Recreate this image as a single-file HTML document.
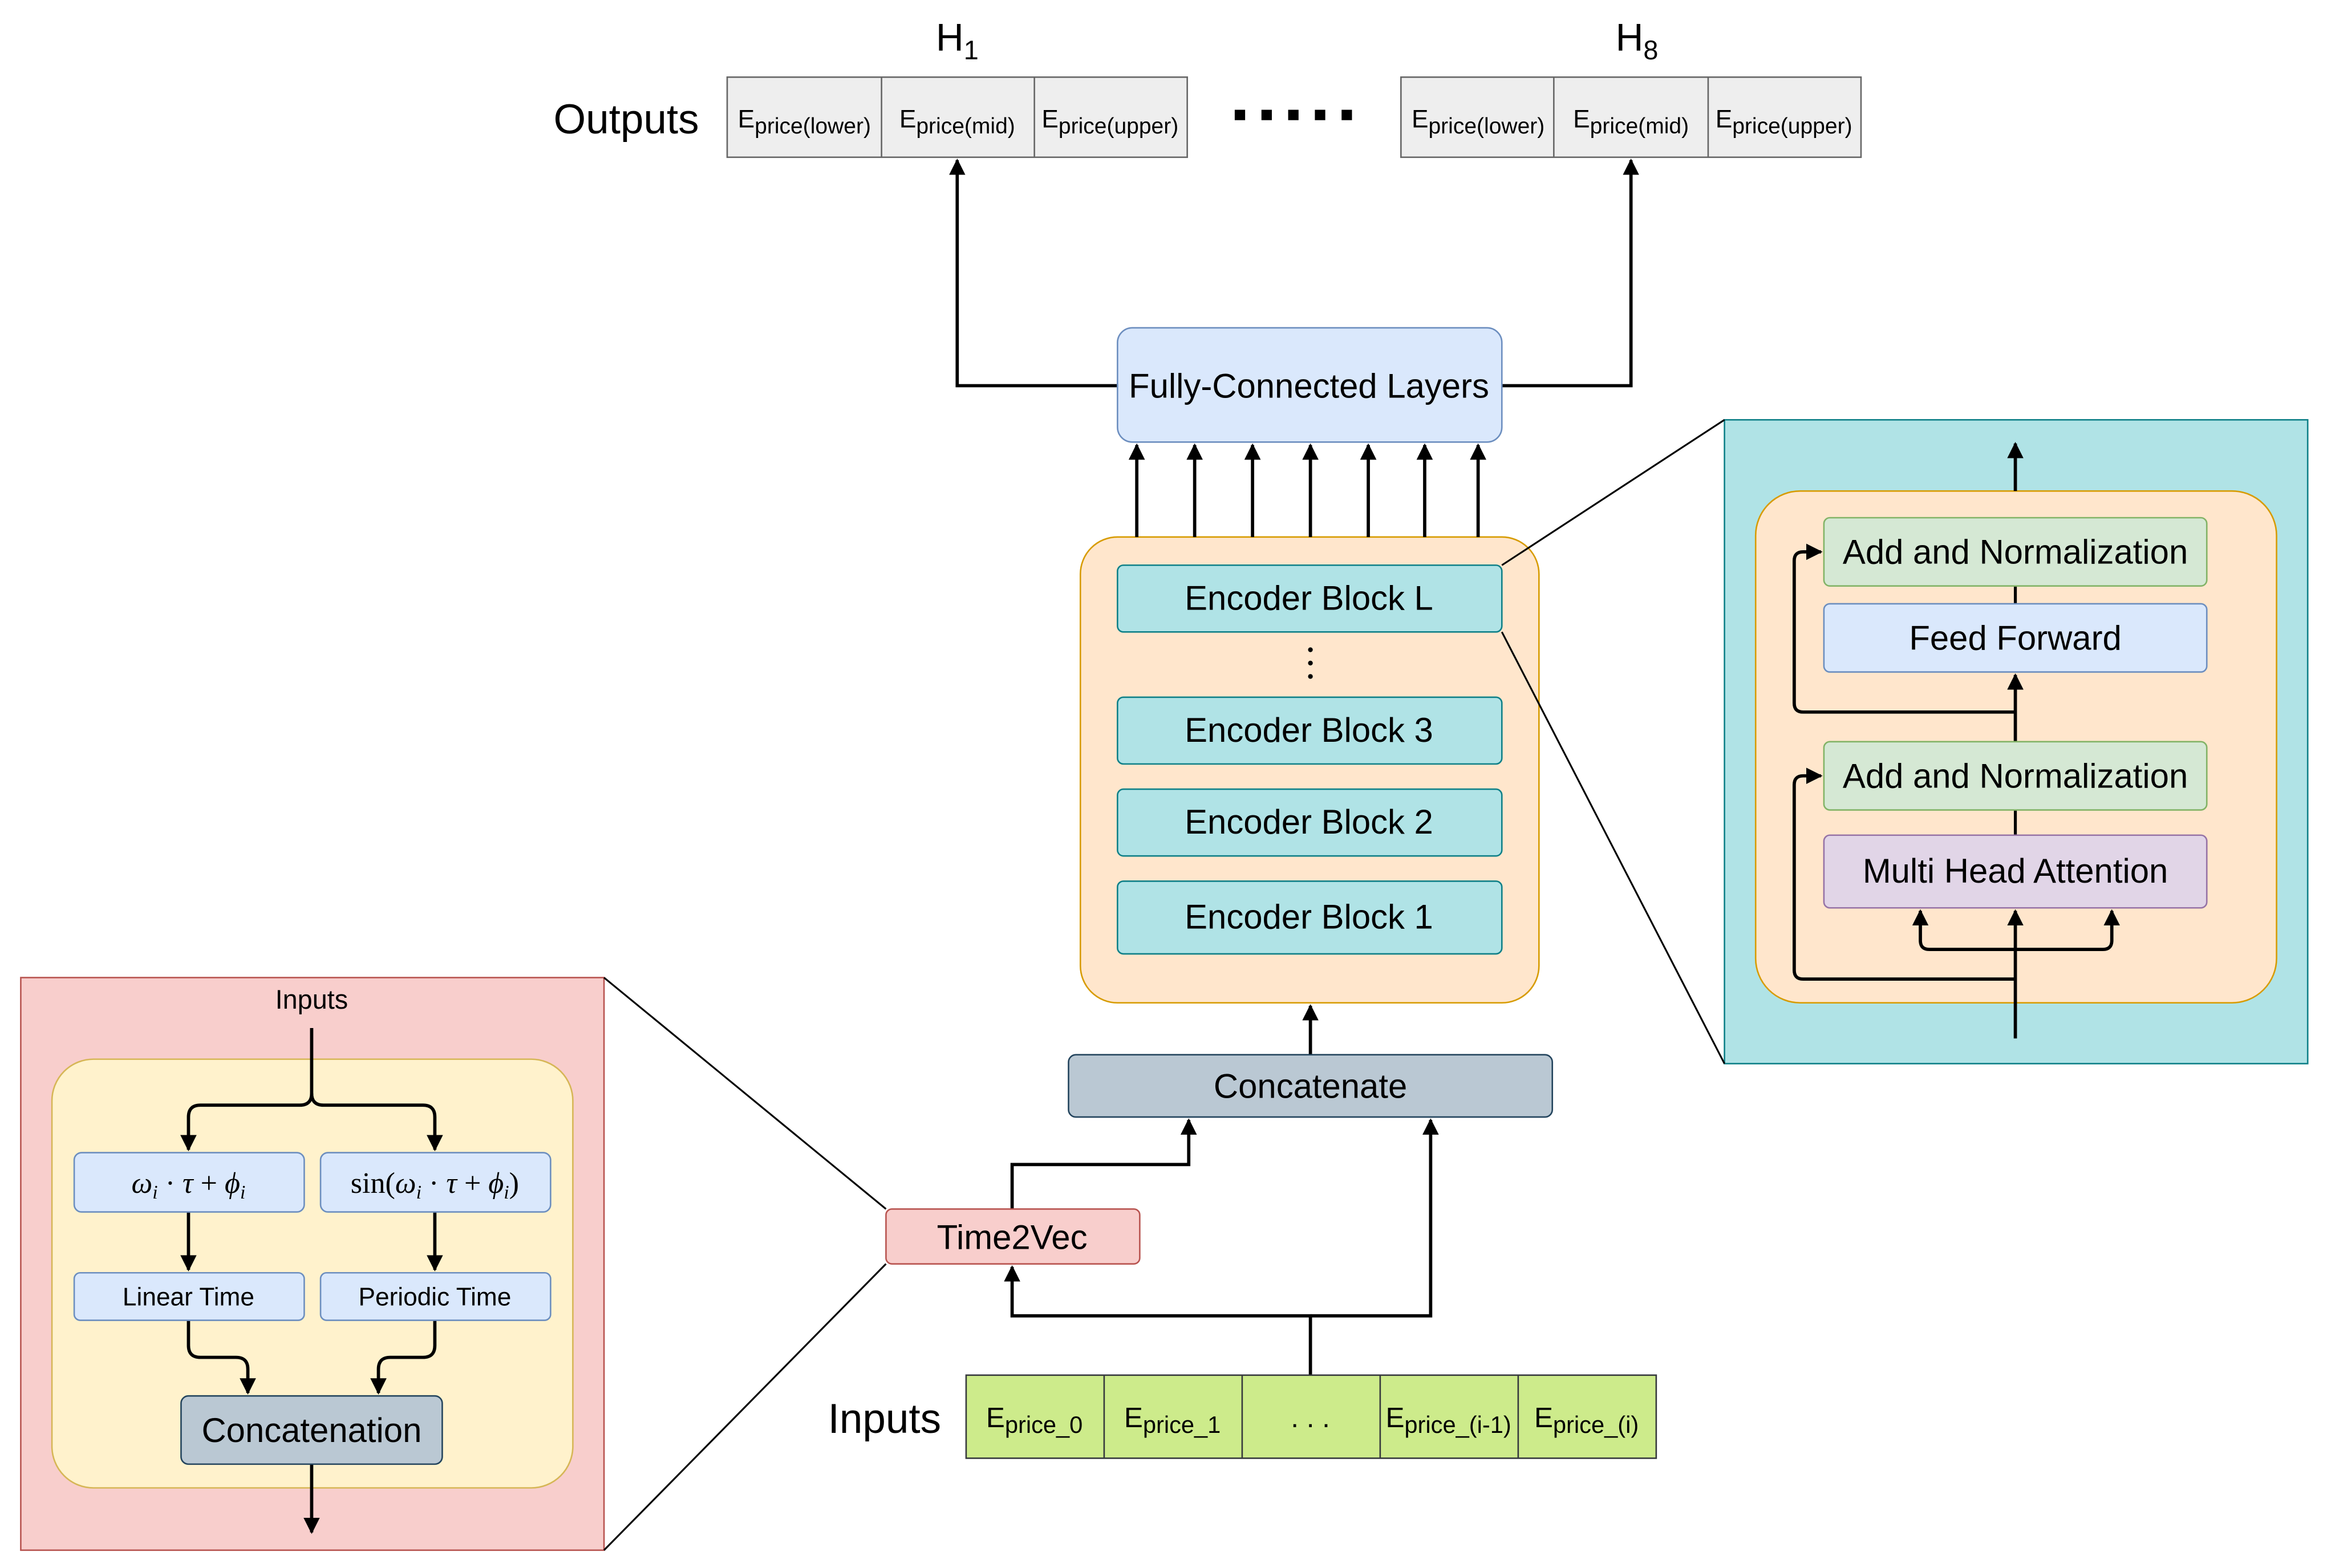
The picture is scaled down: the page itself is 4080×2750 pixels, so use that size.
<!DOCTYPE html>
<html><head><meta charset="utf-8"><style>html,body{margin:0;padding:0;background:#fff}svg{display:block}</style></head>
<body>
<svg width="4080" height="2750" viewBox="0 0 1568 1057" preserveAspectRatio="none" xmlns="http://www.w3.org/2000/svg" font-family="Liberation Sans, DejaVu Sans, sans-serif" fill="#000">
<defs><marker id="a" viewBox="0 0 10 10" refX="9" refY="5" markerWidth="5" markerHeight="5" orient="auto"><path d="M0,0L10,5L0,10z" fill="#000"/></marker></defs>
<rect x="1162" y="283" width="393" height="434" fill="#b0e3e6" stroke="#0e8088"/>
<rect x="1183" y="331" width="351" height="345" rx="30" fill="#ffe6cc" stroke="#d79b00"/>
<rect x="14" y="659" width="393" height="386" fill="#f8cecc" stroke="#b85450"/>
<rect x="35" y="714" width="351" height="289" rx="28" fill="#fff2cc" stroke="#d6b656"/>
<rect x="728" y="362" width="309" height="314" rx="25" fill="#ffe6cc" stroke="#d79b00"/>
<g stroke="#000" stroke-width="2.2" fill="none" marker-end="url(#a)">
<path d="M753,260H645V108"/><path d="M1012,260H1099V108"/>
<path d="M766,362V300"/><path d="M805,362V300"/><path d="M844,362V300"/><path d="M883,362V300"/><path d="M922,362V300"/><path d="M960,362V300"/><path d="M996,362V300"/>
<path d="M883,711V678"/>
<path d="M682,815V785H801V755"/>
<path d="M883,927V887H682V854"/><path d="M883,887H964V755"/>
<path d="M1358,331V299"/>
<path d="M1358,700V614"/><path d="M1358,640H1300Q1294,640 1294,634V614"/><path d="M1358,640H1417Q1423,640 1423,634V614"/>
<path d="M1358,660H1215Q1209,660 1209,654V529Q1209,523 1215,523H1227"/>
<path d="M1358,546V455"/>
<path d="M1358,480H1215Q1209,480 1209,474V378Q1209,372 1215,372H1227"/>
<path d="M210,693V737Q210,745 202,745H135Q127,745 127,753V775"/>
<path d="M210,737Q210,745 218,745H285Q293,745 293,753V775"/>
<path d="M127,817V856"/><path d="M293,817V856"/>
<path d="M127,890V907Q127,915 135,915H159Q167,915 167,923V939"/>
<path d="M293,890V907Q293,915 285,915H263Q255,915 255,923V939"/>
<path d="M210,987V1033"/>
</g>
<g stroke="#000" stroke-width="1.2"><path d="M1012,381L1162,283M1012,426L1162,717M597,815L407,659M597,852L407,1045"/></g>
<text x="645" y="34" font-size="26" text-anchor="middle">H<tspan font-size="18" dy="6">1</tspan></text>
<text x="1103" y="34" font-size="26" text-anchor="middle">H<tspan font-size="18" dy="6">8</tspan></text>
<text x="422" y="90" font-size="28" text-anchor="middle">Outputs</text>
<g fill="#eeeeee" stroke="#666" stroke-width="1"><rect x="490" y="52" width="310" height="54"/><rect x="944" y="52" width="310" height="54"/></g>
<g stroke="#666"><path d="M594,52V106M697,52V106M1047,52V106M1151,52V106"/></g>
<g font-size="17" text-anchor="middle">
<text x="542" y="86">E<tspan font-size="15" dy="4">price(lower)</tspan></text>
<text x="645" y="86">E<tspan font-size="15" dy="4">price(mid)</tspan></text>
<text x="748" y="86">E<tspan font-size="15" dy="4">price(upper)</tspan></text>
<text x="996" y="86">E<tspan font-size="15" dy="4">price(lower)</tspan></text>
<text x="1099" y="86">E<tspan font-size="15" dy="4">price(mid)</tspan></text>
<text x="1202" y="86">E<tspan font-size="15" dy="4">price(upper)</tspan></text>
</g>
<g fill="#000"><rect x="832" y="74" width="7" height="7"/><rect x="850" y="74" width="7" height="7"/><rect x="868" y="74" width="7" height="7"/><rect x="886" y="74" width="7" height="7"/><rect x="904" y="74" width="7" height="7"/></g>
<rect x="753" y="221" width="259" height="77" rx="10" fill="#dae8fc" stroke="#6c8ebf"/>
<text x="882" y="268" font-size="23" text-anchor="middle">Fully-Connected Layers</text>
<g fill="#b0e3e6" stroke="#0e8088"><rect x="753" y="381" width="259" height="45" rx="4"/><rect x="753" y="470" width="259" height="45" rx="4"/><rect x="753" y="532" width="259" height="45" rx="4"/><rect x="753" y="594" width="259" height="49" rx="4"/></g>
<g font-size="23" text-anchor="middle"><text x="882" y="411">Encoder Block L</text><text x="882" y="500">Encoder Block 3</text><text x="882" y="562">Encoder Block 2</text><text x="882" y="626">Encoder Block 1</text></g>
<g fill="#000"><circle cx="883" cy="438" r="1.6"/><circle cx="883" cy="447" r="1.6"/><circle cx="883" cy="456" r="1.6"/></g>
<rect x="720" y="711" width="326" height="42" rx="5" fill="#bac8d3" stroke="#23445d"/>
<text x="883" y="740" font-size="23" text-anchor="middle">Concatenate</text>
<rect x="597" y="815" width="171" height="37" rx="4" fill="#f8cecc" stroke="#b85450"/>
<text x="682" y="842" font-size="23" text-anchor="middle">Time2Vec</text>
<text x="596" y="966" font-size="28" text-anchor="middle">Inputs</text>
<rect x="651" y="927" width="465" height="56" fill="#cdeb8b" stroke="#36393d"/>
<path d="M744,927V983M837,927V983M930,927V983M1023,927V983" stroke="#36393d"/>
<g font-size="19" text-anchor="middle">
<text x="697" y="962">E<tspan font-size="16" dy="4">price_0</tspan></text>
<text x="790" y="962">E<tspan font-size="16" dy="4">price_1</tspan></text>
<text x="883" y="962">. . .</text>
<text x="976" y="962">E<tspan font-size="16" dy="4">price_(i-1)</tspan></text>
<text x="1069" y="962">E<tspan font-size="16" dy="4">price_(i)</tspan></text>
</g>
<path d="M1358,395V407M1358,546V563" stroke="#000" stroke-width="2"/>
<rect x="1229" y="349" width="258" height="46" rx="4" fill="#d5e8d4" stroke="#82b366"/>
<rect x="1229" y="407" width="258" height="46" rx="4" fill="#dae8fc" stroke="#6c8ebf"/>
<rect x="1229" y="500" width="258" height="46" rx="4" fill="#d5e8d4" stroke="#82b366"/>
<rect x="1229" y="563" width="258" height="49" rx="4" fill="#e1d5e7" stroke="#9673a6"/>
<g font-size="23" text-anchor="middle"><text x="1358" y="380">Add and Normalization</text><text x="1358" y="438">Feed Forward</text><text x="1358" y="531">Add and Normalization</text><text x="1358" y="595">Multi Head Attention</text></g>
<text x="210" y="680" font-size="18" text-anchor="middle">Inputs</text>
<g fill="#dae8fc" stroke="#6c8ebf"><rect x="50" y="777" width="155" height="40" rx="5"/><rect x="216" y="777" width="155" height="40" rx="5"/><rect x="50" y="858" width="155" height="32" rx="4"/><rect x="216" y="858" width="155" height="32" rx="4"/></g>
<g text-anchor="middle" font-family="Liberation Serif, DejaVu Serif, serif" font-size="20">
<text x="127" y="804"><tspan font-style="italic">ω</tspan><tspan font-size="13" font-style="italic" dy="4">i</tspan><tspan dy="-4"> · </tspan><tspan font-style="italic">τ</tspan> + <tspan font-style="italic">ϕ</tspan><tspan font-size="13" font-style="italic" dy="4">i</tspan></text>
<text x="293" y="804">sin(<tspan font-style="italic">ω</tspan><tspan font-size="13" font-style="italic" dy="4">i</tspan><tspan dy="-4"> · </tspan><tspan font-style="italic">τ</tspan> + <tspan font-style="italic">ϕ</tspan><tspan font-size="13" font-style="italic" dy="4">i</tspan><tspan dy="-4">)</tspan></text>
</g>
<g font-size="17" text-anchor="middle"><text x="127" y="880">Linear Time</text><text x="293" y="880">Periodic Time</text></g>
<rect x="122" y="941" width="176" height="46" rx="5" fill="#bac8d3" stroke="#23445d"/>
<text x="210" y="972" font-size="23" text-anchor="middle">Concatenation</text>
</svg>
</body></html>
